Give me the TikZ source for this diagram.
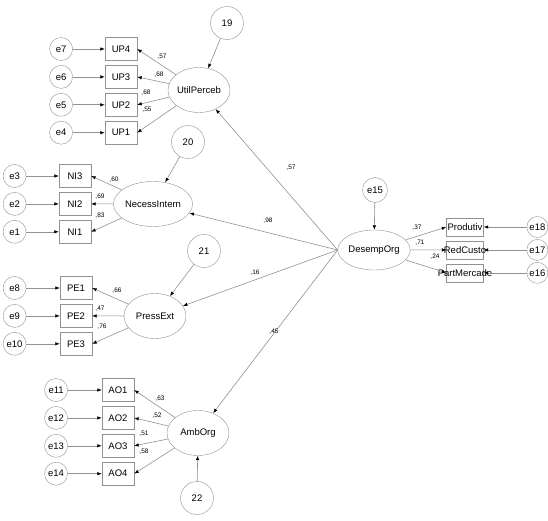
\documentclass[tikz,border=0pt]{standalone}
\usepackage{fontspec}
\setmainfont{Liberation Sans}
\definecolor{edge}{RGB}{145,145,145}
\usetikzlibrary{shapes.geometric,arrows.meta,positioning}

\begin{document}
\begin{tikzpicture}[x=1pt,y=-1pt,
  latent/.style={ellipse,draw=edge,minimum width=62pt,minimum height=45pt,inner sep=0pt,
                 font=\fontsize{9.5}{11}\selectfont},
  item/.style={rectangle,draw=edge,minimum width=32pt,minimum height=23pt,inner sep=0pt,
               font=\fontsize{9.5}{11}\selectfont},
  outitem/.style={item,minimum width=37pt,minimum height=18pt},
  err/.style={circle,draw=edge,minimum size=23pt,inner sep=0pt,font=\fontsize{9.5}{11}\selectfont},
  resid/.style={circle,draw=edge,minimum size=33pt,inner sep=0pt,font=\fontsize{9.5}{11}\selectfont},
  arr/.style={draw=edge,line width=0.6pt,-{Latex[length=4.5pt,width=3.5pt,color=black]}},
  coef/.style={font=\fontsize{6.5}{7}\selectfont,inner sep=0pt}
]
  \useasboundingbox (0,0) rectangle (548,521);

  % UtilPerceb
  \node[latent] (util) at (199,90) {UtilPerceb};
  \node[resid] (r19) at (227,23) {19};
  \node[item] (up4) at (121,49) {UP4};
  \node[item,below=4.5pt of up4] (up3) {UP3};
  \node[item,below=4.5pt of up3] (up2) {UP2};
  \node[item,below=4.5pt of up2] (up1) {UP1};
  \node[err,left=32pt of up4] (e7) {e7};
  \node[err,left=32pt of up3] (e6) {e6};
  \node[err,left=32pt of up2] (e5) {e5};
  \node[err,left=32pt of up1] (e4) {e4};

  % NecessIntern
  \node[latent] (nec) at (153,204) {NecessIntern};
  \node[resid] (r20) at (188,142) {20};
  \node[item] (ni3) at (75,176) {NI3};
  \node[item,below=4.5pt of ni3] (ni2) {NI2};
  \node[item,below=4.5pt of ni2] (ni1) {NI1};
  \node[err,left=32.5pt of ni3] (e3) {e3};
  \node[err,left=32.5pt of ni2] (e2) {e2};
  \node[err,left=32.5pt of ni1] (e1) {e1};

  % PressExt
  \node[latent] (press) at (155,316) {PressExt};
  \node[resid] (r21) at (204,251) {21};
  \node[item] (pe1) at (76,288) {PE1};
  \node[item,below=4.5pt of pe1] (pe2) {PE2};
  \node[item,below=4.5pt of pe2] (pe3) {PE3};
  \node[err,left=33.5pt of pe1] (e8) {e8};
  \node[err,left=33.5pt of pe2] (e9) {e9};
  \node[err,left=33.5pt of pe3] (e10) {e10};

  % AmbOrg
  \node[latent] (amb) at (198,433) {AmbOrg};
  \node[resid] (r22) at (197,498) {22};
  \node[item] (ao1) at (118,390) {AO1};
  \node[item,below=4.5pt of ao1] (ao2) {AO2};
  \node[item,below=4.5pt of ao2] (ao3) {AO3};
  \node[item,below=4.5pt of ao3] (ao4) {AO4};
  \node[err,left=34pt of ao1] (e11) {e11};
  \node[err,left=34pt of ao2] (e12) {e12};
  \node[err,left=34pt of ao3] (e13) {e13};
  \node[err,left=34pt of ao4] (e14) {e14};

  % DesempOrg
  \node[latent,minimum width=72pt,minimum height=40pt] (des) at (374,250) {DesempOrg};
  \node[err,minimum size=25pt] (e15) at (375,190) {e15};
  \node[outitem] (prod) at (465,227) {\makebox[0pt]{Produtiv}};
  \node[outitem,below=4.5pt of prod] (red) {\makebox[0pt]{RedCusto}};
  \node[outitem,below=4.5pt of red] (part) {\makebox[0pt]{PartMercade}};
  \node[err,minimum size=21pt,right=43pt of prod] (e18) {e18};
  \node[err,minimum size=21pt,right=43pt of red] (e17) {e17};
  \node[err,minimum size=21pt,right=43pt of part] (e16) {e16};

  % errors to items
  \draw[arr] (e7)--(up4);  \draw[arr] (e6)--(up3);
  \draw[arr] (e5)--(up2);  \draw[arr] (e4)--(up1);
  \draw[arr] (e3)--(ni3);  \draw[arr] (e2)--(ni2);  \draw[arr] (e1)--(ni1);
  \draw[arr] (e8)--(pe1);  \draw[arr] (e9)--(pe2);  \draw[arr] (e10)--(pe3);
  \draw[arr] (e11)--(ao1); \draw[arr] (e12)--(ao2);
  \draw[arr] (e13)--(ao3); \draw[arr] (e14)--(ao4);
  \draw[arr] (e18)--(prod); \draw[arr] (e17)--(red); \draw[arr] (e16)--(part);

  % residuals
  \draw[arr] (r19)--(util);
  \draw[arr] (r20)--(nec);
  \draw[arr] (r21)--(press);
  \draw[arr] (r22)--(amb);
  \draw[arr] (e15)--(des);

  % loadings
  \draw[arr] (util)--(up4.east);  \draw[arr] (util)--(up3.east);
  \draw[arr] (util)--(up2.east);  \draw[arr] (util)--(up1.east);
  \draw[arr] (nec)--(ni3.east);   \draw[arr] (nec)--(ni2.east);   \draw[arr] (nec)--(ni1.east);
  \draw[arr] (press)--(pe1.east); \draw[arr] (press)--(pe2.east); \draw[arr] (press)--(pe3.east);
  \draw[arr] (amb)--(ao1.east);   \draw[arr] (amb)--(ao2.east);
  \draw[arr] (amb)--(ao3.east);   \draw[arr] (amb)--(ao4.east);
  \draw[arr] (des)--(prod.west);  \draw[arr] (des)--(red.west);   \draw[arr] (des)--(part.west);

  % structural paths
  \draw[arr] (des.west)--(util);
  \draw[arr] (des.west)--(nec);
  \draw[arr] (des.west)--(press);
  \draw[arr] (des.west)--(amb);

  % coefficients
  \node[coef] (c57a) at (162,57) {,57};
  \node[coef] (c68a) at (159,75) {,68};
  \node[coef] (c68b) at (146,93) {,68};
  \node[coef] (c55) at (147,110) {,55};
  \node[coef] (c60) at (114,180) {,60};
  \node[coef] (c69) at (100,197) {,69};
  \node[coef] (c83) at (100,216) {,83};
  \node[coef] (c66) at (117,291) {,66};
  \node[coef] (c47) at (100,309) {,47};
  \node[coef] (c76) at (102,327) {,76};
  \node[coef] (c63) at (160,399) {,63};
  \node[coef] (c52) at (157,416) {,52};
  \node[coef] (c51) at (144,434) {,51};
  \node[coef] (c58) at (144,452) {,58};
  \node[coef] (c57b) at (291,168) {,57};
  \node[coef] (c98) at (268,221) {,98};
  \node[coef] (c16) at (255,273) {,16};
  \node[coef] (c45) at (274,332) {,45};
  \node[coef] (c37) at (417,228) {,37};
  \node[coef] (c71) at (420,243) {,71};
  \node[coef] (c24) at (435,257) {,24};
\end{tikzpicture}
\end{document}
